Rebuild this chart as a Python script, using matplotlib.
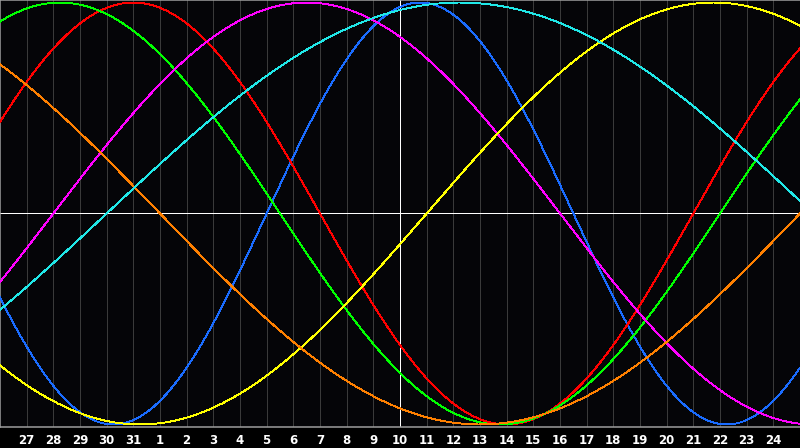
import numpy as np
import matplotlib
matplotlib.use("Agg")
import matplotlib.pyplot as plt

# ---- data ----
day_labels = ["27", "28", "29", "30", "31", "1", "2", "3", "4", "5", "6", "7", "8", "9",
              "10", "11", "12", "13", "14", "15", "16", "17", "18", "19", "20", "21",
              "22", "23", "24"]
today_label = "10"
days_alive_at_start = 23634          # days since birth at the left edge of the chart
cycle_names = ["Physical", "Emotional", "Intellectual", "Intuitive",
               "Aesthetic", "Awareness", "Spiritual"]
cycle_periods = [23, 28, 33, 38, 43, 48, 53]
cycle_colors = ["#1a6cff", "#ff0000", "#00ff00", "#ff00ff",
                "#ffff00", "#ff8000", "#20e8e8"]
n_days = 30

PX = 1 / 100 * 72  # one pixel in points

fig = plt.figure(figsize=(8, 4.48), dpi=100, facecolor="black")
ax = fig.add_axes([0, 21 / 448, 1, 427 / 448])
ax.set_facecolor("#050508")

t = np.linspace(0, n_days, 3001)
for name, p, c in zip(cycle_names, cycle_periods, cycle_colors):
    v = np.sin(2 * np.pi * (days_alive_at_start + t) / p)
    ax.plot(t, v, color=c, lw=PX * 0.9, antialiased=False, zorder=3, label=name)

ticks = np.arange(1, len(day_labels) + 1)
for x, lab in zip(ticks, day_labels):
    col = "white" if lab == today_label else "#3a3a3a"
    ax.axvline(x, color=col, lw=PX, antialiased=False, zorder=2 if lab == today_label else 1)
ax.axhline(0, color="white", lw=PX, antialiased=False, zorder=2)

ax.set_xlim(0, n_days)
ax.set_ylim(-1.012, 1.012)
ax.set_xticks(ticks)
ax.set_xticklabels(day_labels, color="white", fontsize=8.5, fontweight="bold",
                   family="DejaVu Sans")
ax.tick_params(axis="x", length=0, pad=5)
ax.set_yticks([])

for s in ["left", "top", "bottom"]:
    ax.spines[s].set_color("#a0a0a0")
    ax.spines[s].set_linewidth(PX * 1.5)
ax.spines["right"].set_visible(False)

fig.savefig("out.png", dpi=100, facecolor="black")
